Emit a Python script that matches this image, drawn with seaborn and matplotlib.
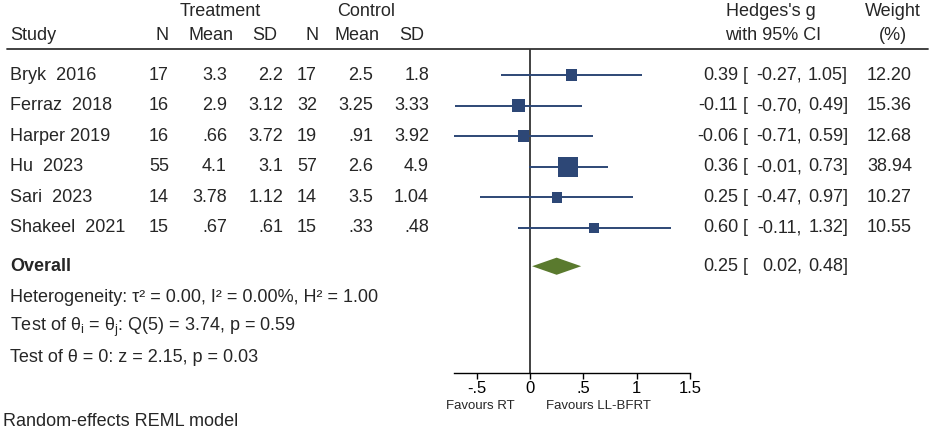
import matplotlib.pyplot as plt
import numpy as np
import pandas as pd
import seaborn as sns
from matplotlib import transforms
from matplotlib.lines import Line2D

# study-level data
studies = ["Bryk  2016", "Ferraz  2018", "Harper 2019", "Hu  2023", "Sari  2023", "Shakeel  2021"]
treat_n = [17, 16, 16, 55, 14, 15]
treat_mean = [3.3, 2.9, 0.66, 4.1, 3.78, 0.67]
treat_sd = [2.2, 3.12, 3.72, 3.1, 1.12, 0.61]
ctrl_n = [17, 32, 19, 57, 14, 15]
ctrl_mean = [2.5, 3.25, 0.91, 2.6, 3.5, 0.33]
ctrl_sd = [1.8, 3.33, 3.92, 4.9, 1.04, 0.48]
hedges_g = [0.39, -0.11, -0.06, 0.36, 0.25, 0.60]
ci_low = [-0.27, -0.70, -0.71, -0.01, -0.47, -0.11]
ci_high = [1.05, 0.49, 0.59, 0.73, 0.97, 1.32]
weight = [12.20, 15.36, 12.68, 38.94, 10.27, 10.55]

# overall estimate
overall_g = 0.25
overall_low = 0.02
overall_high = 0.48

x_ticks = [-0.5, 0, 0.5, 1, 1.5]
x_tick_labels = ["-.5", "0", ".5", "1", "1.5"]

stats_lines = [
    "Heterogeneity: τ² = 0.00, I² = 0.00%, H² = 1.00",
    "Test of θ$_\\mathregular{i}$ = θ$_\\mathregular{j}$: Q(5) = 3.74, p = 0.59",
    "Test of θ = 0: z = 2.15, p = 0.03",
]

NAVY = "#2d4776"
OLIVE = "#5a7a2e"
W, H = 931, 432


def fx(x):
    return x / W


def fy(y):
    return 1 - y / H


def fmt(v):
    return f"{v:g}".replace("0.", ".", 1) if abs(v) < 1 else f"{v:g}"


sns.set_theme(style="white")
plt.rcParams["font.family"] = ["Liberation Sans", "DejaVu Sans"]
plt.rcParams["mathtext.fontset"] = "custom"
plt.rcParams["mathtext.rm"] = "Liberation Sans"
plt.rcParams["mathtext.it"] = "Liberation Sans:italic"

df = pd.DataFrame({
    "study": studies,
    "g": hedges_g,
    "low": ci_low,
    "high": ci_high,
    "weight": weight,
})
df["row"] = np.arange(len(df))
overall_row = len(df) + 0.25

fig = plt.figure(figsize=(W / 100, H / 100), dpi=100)
ax = fig.add_axes([fx(454), fy(373), fx(690 - 454), (373 - 49) / H])

ax.axvline(0, color="#333333", lw=1.3, zorder=1)
ax.hlines(df["row"], df["low"], df["high"], color=NAVY, lw=1.4, zorder=2)
sns.scatterplot(
    data=df,
    x="g",
    y="row",
    size="weight",
    sizes=(0, 207),
    size_norm=(0, df["weight"].max()),
    marker="s",
    color=NAVY,
    linewidth=0,
    legend=False,
    zorder=3,
    ax=ax,
)

half_h = 0.28
ax.fill(
    [overall_low, overall_g, overall_high, overall_g],
    [overall_row, overall_row - half_h, overall_row, overall_row + half_h],
    color=OLIVE,
    lw=0,
    zorder=3,
)

ax.set_xlim(-0.712, 1.5)
ax.set_ylim(9.74, -0.85)
ax.set_xticks(x_ticks)
ax.set_xticklabels(x_tick_labels)
ax.set_yticks([])
ax.set_xlabel("")
ax.set_ylabel("")
ax.tick_params(axis="x", direction="out", length=4, width=1, pad=2, labelsize=12, colors="black", bottom=True)
for side in ["top", "left", "right"]:
    ax.spines[side].set_visible(False)
ax.spines["bottom"].set_color("black")
ax.spines["bottom"].set_linewidth(1)
ax.patch.set_alpha(0)

fs = 13
blend = transforms.blended_transform_factory(fig.transFigure, ax.transData)

# headers
fig.text(fx(220), fy(12), "Treatment", ha="center", va="center", fontsize=fs)
fig.text(fx(366), fy(12), "Control", ha="center", va="center", fontsize=fs)
fig.text(fx(10), fy(36), "Study", ha="left", va="center", fontsize=fs)
for x, lab in zip([162, 211, 265, 312, 357, 412], ["N", "Mean", "SD", "N", "Mean", "SD"]):
    fig.text(fx(x), fy(36), lab, ha="center", va="center", fontsize=fs)
fig.text(fx(771), fy(12), "Hedges's g", ha="center", va="center", fontsize=fs)
fig.text(fx(773), fy(36), "with 95% CI", ha="center", va="center", fontsize=fs)
fig.text(fx(893), fy(12), "Weight", ha="center", va="center", fontsize=fs)
fig.text(fx(893), fy(36), "(%)", ha="center", va="center", fontsize=fs)
fig.add_artist(Line2D([fx(7), fx(928)], [fy(49), fy(49)], color="#333333", lw=1.3))

# table rows
cols = [treat_n, treat_mean, treat_sd, ctrl_n, ctrl_mean, ctrl_sd]
col_right = [169, 227, 283, 317, 373, 429]
for i, r in enumerate(df["row"]):
    ax.text(fx(10), r, studies[i], transform=blend, ha="left", va="center", fontsize=fs)
    for vals, xr in zip(cols, col_right):
        v = vals[i]
        s = str(v) if isinstance(v, int) else fmt(v)
        ax.text(fx(xr), r, s, transform=blend, ha="right", va="center", fontsize=fs)


def ci_text(r, est, lo, hi, w=None):
    ax.text(fx(738), r, f"{est:.2f}", transform=blend, ha="right", va="center", fontsize=fs)
    ax.text(fx(743), r, "[", transform=blend, ha="left", va="center", fontsize=fs)
    ax.text(fx(802), r, f"{lo:.2f},", transform=blend, ha="right", va="center", fontsize=fs)
    ax.text(fx(848), r, f"{hi:.2f}]", transform=blend, ha="right", va="center", fontsize=fs)
    if w is not None:
        ax.text(fx(912), r, f"{w:.2f}", transform=blend, ha="right", va="center", fontsize=fs)


for i, r in enumerate(df["row"]):
    ci_text(r, hedges_g[i], ci_low[i], ci_high[i], weight[i])

ax.text(fx(10), overall_row, "Overall", transform=blend, ha="left", va="center", fontsize=fs, fontweight="bold")
ci_text(overall_row, overall_g, overall_low, overall_high)

for y, line in zip([297, 327, 357], stats_lines):
    fig.text(fx(10), fy(y), line, ha="left", va="center", fontsize=fs)

fig.text(fx(480), fy(406), "Favours RT", ha="center", va="center", fontsize=9.5)
fig.text(fx(598), fy(406), "Favours LL-BFRT", ha="center", va="center", fontsize=9.5)
fig.text(fx(3), fy(422), "Random-effects REML model", ha="left", va="center", fontsize=fs)

fig.savefig("out.png", dpi=100, facecolor="white")
